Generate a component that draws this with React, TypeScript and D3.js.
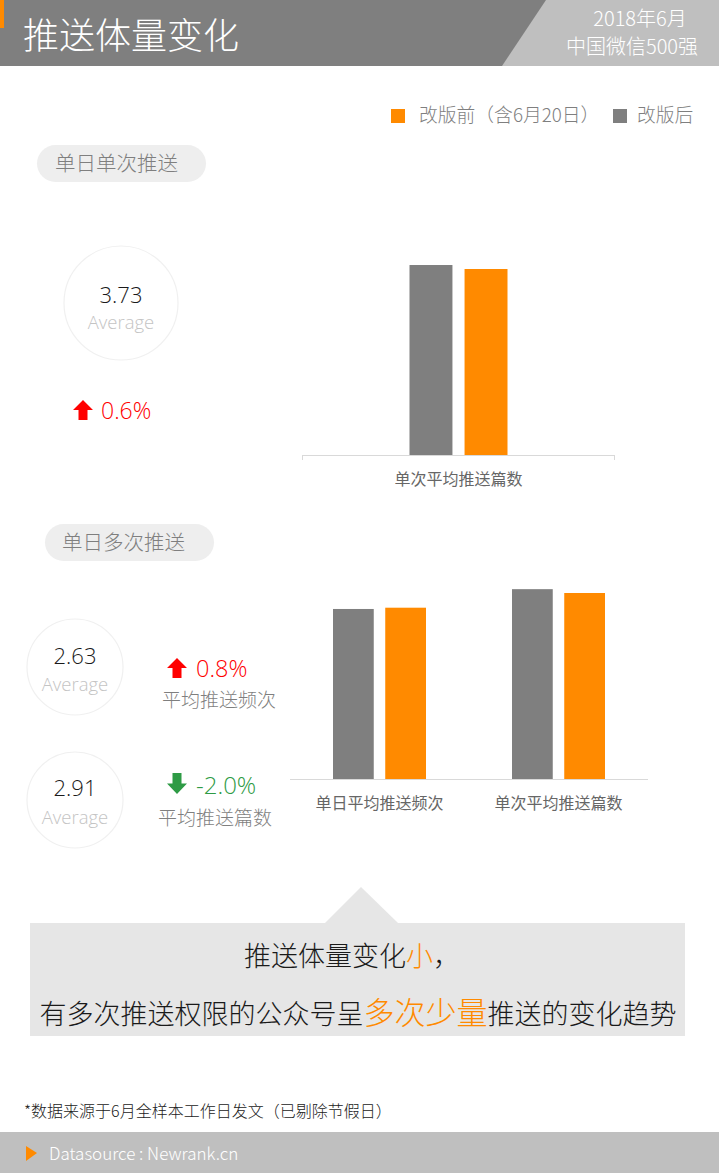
import React from "react";
import * as d3 from "d3";

const seriesKeys = ["after", "before"];
const seriesColors: Record<string, string> = { after: "#7f7f7f", before: "#ff8a00" };
const legendItems = [
  { label: "改版前（含6月20日）", color: "#ff8a00" },
  { label: "改版后", color: "#7f7f7f" },
];

const chart1Categories = ["单次平均推送篇数"];
const chart1After = [3.81];
const chart1Before = [3.73];

const chart2Categories = ["单日平均推送频次", "单次平均推送篇数"];
const chart2After = [2.66, 2.97];
const chart2Before = [2.68, 2.91];

const avgSingle = ["3.73"];
const avgMulti = ["2.63", "2.91"];
const changeSingle = ["0.6%"];
const changeMulti = ["0.8%", "-2.0%"];
const changeMultiLabels = ["平均推送频次", "平均推送篇数"];

const FONT = "'Noto Sans CJK SC', 'Noto Sans', sans-serif";
const LATIN = "'Segoe UI', 'Open Sans', 'Noto Sans', sans-serif";

function BarChart({
  categories, after, before, x0, x1, baseline, pxPerUnit, groupWidth, labelY, endTicks,
}: any) {
  const xBand = d3.scaleBand<string>().domain(categories).range([x0, x1]).padding(0);
  const maxV = d3.max([...after, ...before]) as number;
  const y = d3.scaleLinear().domain([0, maxV]).range([baseline, baseline - maxV * pxPerUnit]);
  const inner = d3.scaleBand<string>().domain(seriesKeys).range([0, groupWidth]).paddingInner(0.22);
  return (
    <g>
      {categories.map((c: string, i: number) => {
        const cx = (xBand(c) as number) + xBand.bandwidth() / 2;
        const gx = cx - groupWidth / 2;
        const vals: Record<string, number> = { after: after[i], before: before[i] };
        return (
          <g key={c}>
            {seriesKeys.map((k) => (
              <rect key={k} x={gx + (inner(k) as number)} width={inner.bandwidth()}
                y={y(vals[k])} height={baseline - y(vals[k])} fill={seriesColors[k]} />
            ))}
            <text x={cx} y={labelY} textAnchor="middle" fontFamily={FONT} fontSize={16}
              fill="#666">{c}</text>
          </g>
        );
      })}
      <line x1={x0} x2={x1} y1={baseline + 0.5} y2={baseline + 0.5} stroke="#d9d9d9" strokeWidth={1} />
      {endTicks && (
        <>
          <line x1={x0 + 0.5} x2={x0 + 0.5} y1={baseline} y2={baseline + 5} stroke="#d9d9d9" />
          <line x1={x1 - 0.5} x2={x1 - 0.5} y1={baseline} y2={baseline + 5} stroke="#d9d9d9" />
        </>
      )}
    </g>
  );
}

function Circle({ cx, cy, r, value, vy, ay, vs, as }: any) {
  return (
    <g>
      <circle cx={cx} cy={cy} r={r} fill="#fff" stroke="#f0f0f0" strokeWidth={1.2} />
      <text x={cx} y={vy} textAnchor="middle" fontFamily={LATIN} fontSize={vs} fontWeight={300} fill="#1a1a1a">{value}</text>
      <text x={cx} y={ay} textAnchor="middle" fontFamily={LATIN} fontSize={as} fontWeight={300} fill="#c4c4c4">Average</text>
    </g>
  );
}

function Arrow({ x, y, w, h, up, color }: any) {
  const sw = w * 0.45;
  const hh = h * 0.5;
  const pts = up
    ? [[x + w / 2, y], [x + w, y + hh], [x + w / 2 + sw / 2, y + hh], [x + w / 2 + sw / 2, y + h], [x + w / 2 - sw / 2, y + h], [x + w / 2 - sw / 2, y + hh], [x, y + hh]]
    : [[x + w / 2, y + h], [x + w, y + h - hh], [x + w / 2 + sw / 2, y + h - hh], [x + w / 2 + sw / 2, y], [x + w / 2 - sw / 2, y], [x + w / 2 - sw / 2, y + h - hh], [x, y + h - hh]];
  return <polygon points={pts.map((p) => p.join(",")).join(" ")} fill={color} />;
}

export default function App() {
  const RED = "#ff0000";
  const GREEN = "#2e9b45";
  return (
    <svg width={719} height={1173} style={{ position: "absolute", left: 0, top: 0 }}
      xmlns="http://www.w3.org/2000/svg">
      <rect x={0} y={0} width={719} height={1173} fill="#fff" />
      {/* header */}
      <rect x={0} y={0} width={719} height={66} fill="#7f7f7f" />
      <polygon points="546,0 719,0 719,66 502,66" fill="#bfbfbf" />
      <rect x={0} y={0} width={4} height={28} fill="#ff8a00" />
      <text x={23} y={49} fontFamily={FONT} fontSize={36} fontWeight={300} fill="#fff">推送体量变化</text>
      <text x={640} y={26} textAnchor="middle" fontFamily={FONT} fontSize={20} fontWeight={300} fill="#fff">2018年6月</text>
      <text x={632} y={54} textAnchor="middle" fontFamily={FONT} fontSize={20} fontWeight={300} fill="#fff">中国微信500强</text>

      {/* legend */}
      {legendItems.map((d, i) => {
        const xs = [391, 613][i];
        const tx = [419, 637][i];
        return (
          <g key={d.label}>
            <rect x={xs} y={109} width={14} height={14} fill={d.color} />
            <text x={tx} y={122} fontFamily={FONT} fontSize={18.8} fontWeight={300} fill="#7f7f7f">{d.label}</text>
          </g>
        );
      })}

      {/* section 1 */}
      <rect x={37} y={145} width={169} height={37} rx={18.5} fill="#eeeeee" />
      <text x={55} y={171} fontFamily={FONT} fontSize={20.5} fontWeight={300} fill="#7f7f7f">单日单次推送</text>
      <Circle cx={121} cy={303} r={57} value={avgSingle[0]} vy={303} ay={329} vs={22} as={18.5} />
      <Arrow x={73} y={400} w={20} h={20} up color={RED} />
      <text x={101} y={419} fontFamily={LATIN} fontSize={23} fontWeight={300} fill={RED}>{changeSingle[0]}</text>
      <BarChart categories={chart1Categories} after={chart1After} before={chart1Before}
        x0={302} x1={615} baseline={455} pxPerUnit={186 / 3.73} groupWidth={98} labelY={485} endTicks />

      {/* section 2 */}
      <rect x={45} y={524} width={169} height={37} rx={18.5} fill="#eeeeee" />
      <text x={62} y={550} fontFamily={FONT} fontSize={20.5} fontWeight={300} fill="#7f7f7f">单日多次推送</text>
      <Circle cx={75} cy={667} r={48} value={avgMulti[0]} vy={664} ay={691} vs={22} as={18.5} />
      <Circle cx={75} cy={800} r={48} value={avgMulti[1]} vy={796} ay={824} vs={22} as={18.5} />
      <Arrow x={167} y={658} w={20} h={20} up color={RED} />
      <text x={196} y={677} fontFamily={LATIN} fontSize={23.5} fontWeight={300} fill={RED}>{changeMulti[0]}</text>
      <text x={162} y={707} fontFamily={FONT} fontSize={19} fontWeight={300} fill="#7f7f7f">{changeMultiLabels[0]}</text>
      <Arrow x={167} y={773} w={20} h={21} up={false} color={GREEN} />
      <text x={196} y={794} fontFamily={LATIN} fontSize={24} fontWeight={300} fill={GREEN}>{changeMulti[1]}</text>
      <text x={158} y={825} fontFamily={FONT} fontSize={19} fontWeight={300} fill="#7f7f7f">{changeMultiLabels[1]}</text>
      <BarChart categories={chart2Categories} after={chart2After} before={chart2Before}
        x0={290} x1={648} baseline={779} pxPerUnit={186 / 2.91} groupWidth={93} labelY={809} endTicks={false} />

      {/* callout */}
      <polygon points="325,923 361,887 398,923" fill="#e6e6e6" />
      <rect x={30} y={923} width={655} height={113} fill="#e6e6e6" />
      <text x={352} y={966} textAnchor="middle" fontFamily={FONT} fontSize={27} fontWeight={300} fill="#1a1a1a">
        推送体量变化<tspan fill="#ff8a00">小</tspan>，
      </text>
      <text x={358} y={1024} textAnchor="middle" fontFamily={FONT} fontSize={27} fontWeight={300} fill="#1a1a1a">
        有多次推送权限的公众号呈<tspan fill="#ff8a00" fontSize={31}>多次少量</tspan>推送的变化趋势
      </text>

      {/* footnote */}
      <text x={24} y={1117} fontFamily={FONT} fontSize={16} fontWeight={300} fill="#222">*数据来源于6月全样本工作日发文（已剔除节假日）</text>
      <rect x={0} y={1132} width={719} height={41} fill="#bfbfbf" />
      <polygon points="26,1146 37,1153 26,1161" fill="#ff8a00" />
      <text x={49} y={1160} fontFamily={FONT} fontSize={17} fontWeight={300} fill="#fff">Datasource : Newrank.cn</text>
    </svg>
  );
}
